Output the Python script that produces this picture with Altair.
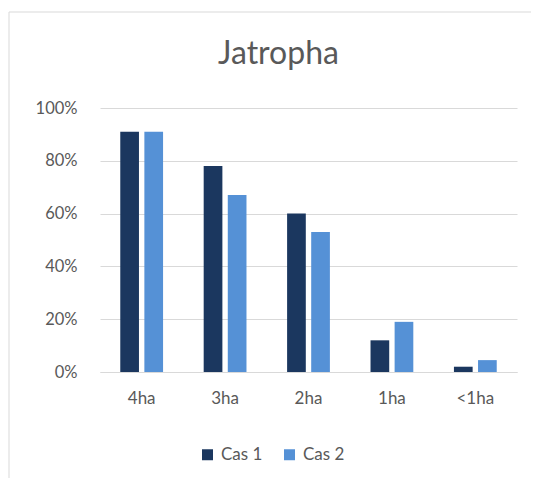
import altair as alt
import pandas as pd

categories = ["4ha", "3ha", "2ha", "1ha", "<1ha"]
series = ["Cas 1", "Cas 2"]
cas1 = [0.91, 0.78, 0.60, 0.12, 0.02]
cas2 = [0.91, 0.67, 0.53, 0.19, 0.045]
colors = ["#1B375F", "#5591D6"]
y_ticks = [0, 0.2, 0.4, 0.6, 0.8, 1.0]

rows = []
for c, a, b in zip(categories, cas1, cas2):
    rows.append({"cat": c, "serie": series[0], "val": a})
    rows.append({"cat": c, "serie": series[1], "val": b})
df = pd.DataFrame(rows)

FONT = "Lato"
GREY = "#595959"

bars = alt.Chart(df).mark_bar().encode(
    x=alt.X("cat:N", sort=categories, title=None,
            scale=alt.Scale(paddingInner=0.487, paddingOuter=0.243),
            axis=alt.Axis(labelAngle=0, labelFontSize=17, labelColor=GREY, labelFont=FONT,
                          labelPadding=18, ticks=False, domainColor="#D9D9D9", domainWidth=1.2,
                          grid=False)),
    xOffset=alt.XOffset("serie:N", sort=series,
                        scale=alt.Scale(paddingInner=0.224, paddingOuter=0)),
    y=alt.Y("val:Q", title=None, scale=alt.Scale(domain=[0, 1], nice=False),
            axis=alt.Axis(values=y_ticks, format=".0%", labelFontSize=16.5, labelColor=GREY,
                          labelFont=FONT, labelPadding=23, ticks=False, domain=False,
                          gridColor="#D9D9D9", gridWidth=1.2)),
    color=alt.Color("serie:N", sort=series, scale=alt.Scale(domain=series, range=colors),
                    legend=alt.Legend(title=None, orient="none", direction="horizontal",
                                      legendX=99, legendY=338, symbolType="square",
                                      symbolSize=121, symbolStrokeWidth=0,
                                      labelFontSize=17, labelColor=GREY, labelFont=FONT,
                                      labelOffset=5, columnPadding=18)),
)

frame = alt.Chart(pd.DataFrame({"a": [0]})).mark_rect(
    fill=None, stroke="#D9D9D9", strokeWidth=1, clip=False
).encode(
    x=alt.value(-91), x2=alt.value(700), y=alt.value(-96), y2=alt.value(600)
)

chart = alt.layer(frame, bars).properties(
    width=417, height=264,
    title=alt.TitleParams("Jatropha", fontSize=32, font=FONT, color=GREY, fontWeight="normal",
                          anchor="middle", frame="group", dx=-30, baseline="alphabetic",
                          offset=40, dy=124),
    padding={"left": 92, "top": 100, "right": 14, "bottom": 106},
    autosize=alt.AutoSizeParams(type="none"),
).configure_view(stroke=None)

chart.save("out.html", embed_options={"renderer": "svg", "actions": False})
